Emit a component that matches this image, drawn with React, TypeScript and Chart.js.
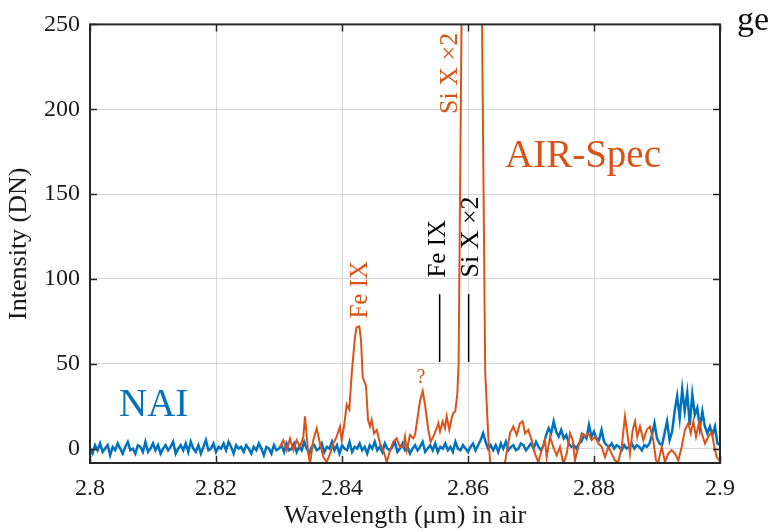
import React, { useEffect, useRef } from 'react';
import { Chart, registerables } from 'chart.js';

Chart.register(...registerables);

const BLUE = '#0072BD';
const ORANGE = '#D95319';
const AXIS = '#262626';
const SERIF = '"Liberation Serif", "Times New Roman", serif';

// tick labels
const xTickValues = [2.8, 2.82, 2.84, 2.86, 2.88, 2.9];
const yTickValues = [0, 50, 100, 150, 200, 250];

// NAI spectrum: regular wavelength grid
const naiStart = 2.8;
const naiStep = 0.0004;
const naiIntensity = [
  0, -3, 2, -1, 3, -2, 0, 2, -4, 1,
  -1, 3, 0, -3, 1, 4, -1, 0, -3, 2,
  1, -2, 4, -2, 0, 3, -1, 2, -3, 0,
  2, -1, 1, 4, -3, 0, 2, -1, 3, -2,
  4, 0, -2, 2, -3, 1, 5, -1, 0, 3,
  -2, 1, 0, 3, -1, 4, 1, -3, 2, 0,
  1, -2, 2, 0, -3, 1, -1, 3, 0, -4,
  1, 0, -3, 2, -1, 0, 2, -2, 3, -1,
  0, 3, -2, 1, -1, 4, 0, -3, 1, 2,
  -1, 0, 3, -2, 1, 0, 4, -1, 2, -3,
  2, 0, -1, 4, -2, 1, 0, 3, -1, 1,
  -3, 2, 0, 4, -1, 1, -2, 3, 0, -1,
  1, 4, -2, 0, 3, -1, 1, -3, 0, 2,
  -1, 1, 4, -2, 0, 2, -1, 3, -2, 1,
  0, 3, -1, 1, -2, 4, 0, -1, 2, 0,
  -2, 1, 3, -1, 2, 5, 9, 4, 0, 2,
  -1, 2, -2, 3, 0, 4, -1, 1, 2, -1,
  0, 3, 2, -1, 1, 3, 0, 4, 1, -1,
  2, 8, 12, 9, 16, 10, 7, 11, 6, 8,
  3, 1, 2, 0, 3, 4, 8, 6, 14, 7,
  10, 6, 5, 11, 4, 2, 1, 3, 0, 2,
  1, -1, 2, 0, 1, 3, 0, 2, 1, -1,
  2, 1, 3, 8, 15, 6, 3, 2, 9, 16,
  5, 10, 22, 31, 18, 35, 22, 33, 14, 32,
  20, 24, 12, 22, 13, 9, 13, 8, 13, 3,
  2,
];

// AIR-Spec spectrum: [wavelength, intensity]
const airSpecPoints: [number, number][] = [
  [2.83016, 1], [2.83068, 5], [2.83122, -1], [2.83175, 6], [2.83227, -1],
  [2.83281, 5], [2.83333, 1], [2.83386, 7], [2.83413, 19], [2.8344, 7],
  [2.83465, -3], [2.83492, -9], [2.83544, 5], [2.83598, 12], [2.83651, 3],
  [2.83703, -5], [2.83757, -8], [2.8381, -3], [2.83862, 3], [2.83916, 7],
  [2.83968, 13], [2.83995, 5], [2.84032, 13], [2.84075, 26], [2.84116, 23],
  [2.84154, 44], [2.84206, 66], [2.84233, 71.5], [2.84275, 72], [2.84302, 64],
  [2.84329, 42], [2.84381, 37], [2.84413, 17], [2.84444, 13], [2.84471, 17],
  [2.84508, 9], [2.84551, 11], [2.84603, 3], [2.84656, -1], [2.8471, -8],
  [2.84762, -1], [2.84814, 4], [2.84868, 6], [2.84921, 1], [2.84973, 1],
  [2.85, 7], [2.85027, -1], [2.85079, 8], [2.85132, 6], [2.85159, 8],
  [2.85195, 17], [2.85238, 28], [2.85281, 34], [2.85317, 26], [2.8537, 11],
  [2.85408, 4], [2.85449, 7], [2.85503, 12], [2.85529, 15], [2.85556, 10],
  [2.85598, 16], [2.85635, 12], [2.85662, 19], [2.85703, 11], [2.85741, 18],
  [2.85767, 21], [2.85798, 22], [2.8583, 32], [2.85851, 50], [2.85913, 320],
  [2.86206, 320], [2.86273, 45], [2.86322, 7], [2.8636, -12], [2.8646, -12],
  [2.8654, -11], [2.86587, -8], [2.86667, 9], [2.86719, 13], [2.86773, 8],
  [2.86825, 15], [2.86868, 16], [2.86905, 9], [2.86957, 11], [2.87011, 5],
  [2.87063, -3], [2.87116, -8], [2.8717, -1], [2.87222, 5], [2.87249, -5],
  [2.87302, 7], [2.87354, 1], [2.87408, -4], [2.8746, 1], [2.87513, -9],
  [2.87567, -3], [2.87619, 9], [2.87662, 5], [2.87698, -7], [2.87751, 1],
  [2.87805, 9], [2.87857, 7], [2.8791, 9], [2.87963, 5], [2.88016, 7],
  [2.88068, 3], [2.88122, 1], [2.88175, -5], [2.88227, 1], [2.88281, -3],
  [2.88333, -7], [2.88386, -8], [2.8844, 1], [2.88492, 19], [2.88529, 9],
  [2.88571, -3], [2.88614, 11], [2.88651, 16], [2.88687, 7], [2.8873, 13],
  [2.88783, 5], [2.88837, 11], [2.88889, 13], [2.88941, 5], [2.88984, -7],
  [2.89021, -8], [2.89075, 1], [2.89127, -8], [2.89179, -3], [2.89233, -1],
  [2.89286, -3], [2.89338, -7], [2.89392, 1], [2.89444, 11], [2.89497, 15],
  [2.89535, 9], [2.89576, 16], [2.89619, 7], [2.89671, 16], [2.8971, 9],
  [2.89762, 3], [2.89814, 7], [2.89868, 10], [2.8991, 1], [2.89948, -5],
  [2.89989, -7],
];

// rest-wavelength markers (black ticks)
const markerWavelengths = [2.8555, 2.8601];
const markerLow = 51;
const markerHigh = 91;

type Note = { text: string; x: number; y: number; color: string; size: number; rotate?: boolean; align?: CanvasTextAlign };
const notes: Note[] = [
  { text: 'NAI', x: 2.8046, y: 19, color: BLUE, size: 39, align: 'left' },
  { text: 'AIR-Spec', x: 2.86587, y: 166.2, color: ORANGE, size: 39, align: 'left' },
  { text: '?', x: 2.85254, y: 38.4, color: ORANGE, size: 20, align: 'center' },
  { text: 'Fe IX', x: 2.84397, y: 76.6, color: ORANGE, size: 25, rotate: true },
  { text: 'Si X \u00d72', x: 2.85825, y: 197.2, color: ORANGE, size: 26, rotate: true },
  { text: 'Fe IX', x: 2.85635, y: 100.8, color: '#000', size: 25, rotate: true },
  { text: 'Si X \u00d72', x: 2.86159, y: 100.8, color: '#000', size: 26, rotate: true },
];

const decorPlugin = {
  id: 'decor',
  afterDatasetsDraw(chart: any) {
    const { ctx, chartArea: a, scales } = chart;
    const xs = scales.x;
    const ys = scales.y;
    ctx.save();
    // inward tick marks on all four sides
    ctx.strokeStyle = AXIS;
    ctx.lineWidth = 1.5;
    const L = 7;
    ctx.beginPath();
    xTickValues.forEach((v) => {
      const px = Math.round(xs.getPixelForValue(v)) + 0.5;
      ctx.moveTo(px, a.bottom);
      ctx.lineTo(px, a.bottom - L);
      ctx.moveTo(px, a.top);
      ctx.lineTo(px, a.top + L);
    });
    yTickValues.forEach((v) => {
      const py = Math.round(ys.getPixelForValue(v)) + 0.5;
      ctx.moveTo(a.left, py);
      ctx.lineTo(a.left + L, py);
      ctx.moveTo(a.right, py);
      ctx.lineTo(a.right - L, py);
    });
    ctx.stroke();
    ctx.lineWidth = 2;
    ctx.strokeRect(a.left, a.top, a.right - a.left, a.bottom - a.top);

    // annotations
    notes.forEach((n) => {
      const px = xs.getPixelForValue(n.x);
      const py = ys.getPixelForValue(n.y);
      ctx.fillStyle = n.color;
      ctx.font = `${n.size}px ${SERIF}`;
      ctx.textBaseline = 'alphabetic';
      if (n.rotate) {
        ctx.save();
        ctx.translate(px, py);
        ctx.rotate(-Math.PI / 2);
        ctx.textAlign = 'left';
        ctx.fillText(n.text, 0, 0);
        ctx.restore();
      } else {
        ctx.textAlign = n.align || 'left';
        ctx.fillText(n.text, px, py);
      }
    });

    // stray cropped text from the source page
    ctx.fillStyle = '#111';
    ctx.font = `34px ${SERIF}`;
    ctx.textAlign = 'left';
    ctx.fillText('ge', 737, 30);
    ctx.restore();
  },
};

export default function App() {
  const canvasRef = useRef<HTMLCanvasElement | null>(null);

  useEffect(() => {
    const canvas = canvasRef.current;
    if (!canvas) return;

    const naiData = naiIntensity.map((v, i) => ({ x: naiStart + i * naiStep, y: v }));
    const airData = airSpecPoints.map(([w, v]) => ({ x: w, y: v }));
    const markerSets = markerWavelengths.map((w) => ({
      data: [
        { x: w, y: markerLow },
        { x: w, y: markerHigh },
      ],
      borderColor: '#000',
      borderWidth: 1.5,
      showLine: true,
      pointRadius: 0,
      order: 0,
    }));

    const chart = new Chart(canvas, {
      type: 'scatter',
      data: {
        datasets: [
          ...markerSets,
          {
            data: airData,
            borderColor: ORANGE,
            borderWidth: 2,
            showLine: true,
            pointRadius: 0,
            tension: 0,
            order: 1,
          },
          {
            data: naiData,
            borderColor: BLUE,
            borderWidth: 2.5,
            showLine: true,
            pointRadius: 0,
            tension: 0,
            order: 2,
          },
        ],
      },
      options: {
        animation: false,
        responsive: false,
        devicePixelRatio: 1,
        layout: { padding: { left: 0, right: 49, top: 22, bottom: 0 } },
        plugins: {
          legend: { display: false },
          tooltip: { enabled: false },
        },
        scales: {
          x: {
            type: 'linear',
            min: 2.8,
            max: 2.9,
            afterBuildTicks: (s: any) => {
              s.ticks = xTickValues.map((value) => ({ value }));
            },
            afterFit: (s: any) => {
              s.height = 69;
            },
            ticks: {
              font: { family: SERIF, size: 24 },
              color: '#1a1a1a',
              padding: 11,
              maxRotation: 0,
              autoSkip: false,
              callback: (v: any) => String(v),
            },
            grid: { color: '#d6d6d6', lineWidth: 1, drawTicks: false },
            border: { display: false },
            title: {
              display: true,
              text: 'Wavelength (\u03bcm) in air',
              font: { family: SERIF, size: 26 },
              color: '#1a1a1a',
              padding: { top: 0, bottom: 0 },
            },
          },
          y: {
            type: 'linear',
            min: -8.5,
            max: 250,
            afterBuildTicks: (s: any) => {
              s.ticks = yTickValues.map((value) => ({ value }));
            },
            afterFit: (s: any) => {
              s.width = 90;
            },
            ticks: {
              font: { family: SERIF, size: 24 },
              color: '#1a1a1a',
              padding: 10,
              autoSkip: false,
              callback: (v: any) => String(v),
            },
            grid: { color: '#d6d6d6', lineWidth: 1, drawTicks: false },
            border: { display: false },
            title: {
              display: true,
              text: 'Intensity (DN)',
              font: { family: SERIF, size: 26 },
              color: '#1a1a1a',
              padding: { top: 4, bottom: 0 },
            },
          },
        },
      },
      plugins: [decorPlugin],
    });

    return () => chart.destroy();
  }, []);

  return (
    <div style={{ position: 'absolute', left: 0, top: 0, width: 769, height: 532, background: '#fff' }}>
      <canvas ref={canvasRef} width={769} height={532} style={{ display: 'block' }} />
    </div>
  );
}
